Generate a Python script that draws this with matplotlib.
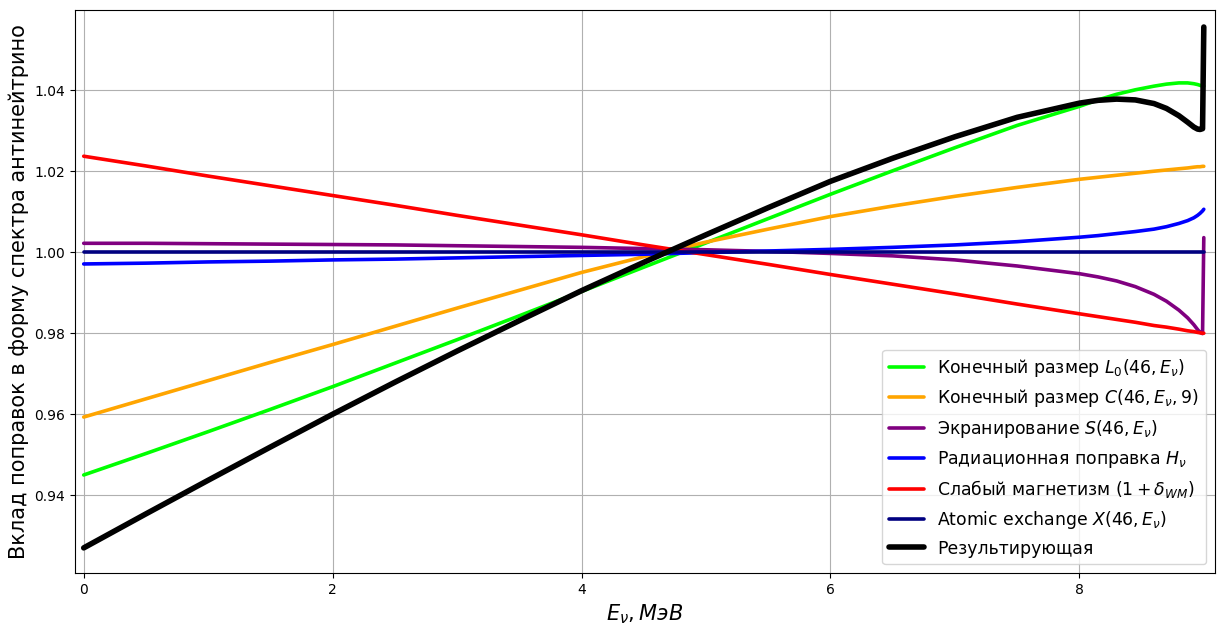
import matplotlib
matplotlib.use("Agg")
import matplotlib.pyplot as plt

# Antineutrino energy grid, MeV
ev = [0.0, 0.5, 1.0, 1.5, 2.0, 2.5, 3.0, 3.5, 4.0, 4.5, 5.0, 5.5, 6.0,
      6.5, 7.0, 7.5, 8.0, 8.15, 8.3, 8.45, 8.6, 8.7, 8.8, 8.87, 8.92,
      8.95, 8.97, 8.99, 9.0]

# Finite size L0(46, Ev)
finite_l0 = [0.9450, 0.9503, 0.9557, 0.9612, 0.9668, 0.9726, 0.9784, 0.9843,
             0.9903, 0.9963, 1.0023, 1.0083, 1.0143, 1.0201, 1.0258, 1.0313,
             1.0360, 1.0376, 1.0390, 1.0401, 1.0410, 1.0415, 1.0418, 1.0418,
             1.0416, 1.0414, 1.0412, 1.0410, 1.0410]
# Finite size C(46, Ev, 9)
finite_c = [0.9593, 0.9638, 0.9683, 0.9728, 0.9772, 0.9817, 0.9862, 0.9906,
            0.9950, 0.9989, 1.0025, 1.0057, 1.0088, 1.0114, 1.0138, 1.0160,
            1.0180, 1.0185, 1.0190, 1.0195, 1.0200, 1.0203, 1.0206, 1.0208,
            1.0210, 1.0211, 1.0211, 1.0212, 1.0212]
# Screening S(46, Ev)
screening = [1.0022, 1.0022, 1.0021, 1.0020, 1.0019, 1.0018, 1.0016, 1.0014,
             1.0012, 1.0009, 1.0006, 1.0002, 0.9997, 0.9991, 0.9981, 0.9966,
             0.9947, 0.9939, 0.9929, 0.9915, 0.9896, 0.9879, 0.9857, 0.9838,
             0.9821, 0.9809, 0.9802, 0.9799, 1.0036]
# Radiative correction H_nu
radiative = [0.9971, 0.9973, 0.9976, 0.9978, 0.9981, 0.9983, 0.9986, 0.9989,
             0.9992, 0.9995, 0.9999, 1.0003, 1.0007, 1.0012, 1.0018, 1.0026,
             1.0037, 1.0041, 1.0046, 1.0051, 1.0057, 1.0063, 1.0071, 1.0078,
             1.0085, 1.0091, 1.0096, 1.0102, 1.0106]
# Weak magnetism (1 + delta_WM)
weak_mag = [1.0237, 1.0213, 1.0188, 1.0164, 1.0140, 1.0116, 1.0091, 1.0067,
            1.0043, 1.0018, 0.9994, 0.9970, 0.9945, 0.9921, 0.9897, 0.9872,
            0.9848, 0.9841, 0.9834, 0.9827, 0.9819, 0.9815, 0.9810, 0.9806,
            0.9804, 0.9802, 0.9801, 0.9800, 0.9800]
# Atomic exchange X(46, Ev)
exchange = [1.0] * len(ev)
# Total correction
total = [0.9270, 0.9354, 0.9437, 0.9519, 0.9600, 0.9679, 0.9756, 0.9831,
         0.9905, 0.9975, 1.0043, 1.0110, 1.0175, 1.0232, 1.0285, 1.0333,
         1.0368, 1.0375, 1.0378, 1.0376, 1.0367, 1.0355, 1.0337, 1.0321,
         1.0309, 1.0304, 1.0303, 1.0305, 1.0556]

labels = [
    r"Конечный размер $L_0(46, E_{\nu})$",
    r"Конечный размер $C(46, E_{\nu}, 9)$",
    r"Экранирование $S(46, E_{\nu})$",
    r"Радиационная поправка $H_{\nu}$",
    r"Слабый магнетизм $(1 + \delta_{WM})$",
    r"Atomic exchange $X(46, E_{\nu})$",
    "Результирующая",
]
colors = ["lime", "orange", "purple", "blue", "red", "navy", "black"]
series = [finite_l0, finite_c, screening, radiative, weak_mag, exchange, total]

fig = plt.figure(figsize=(12.22, 6.25), dpi=100)
ax = fig.add_axes([75 / 1222, (625 - 573) / 625, (1215 - 75) / 1222, (573 - 10) / 625])

for vals, col, lab in zip(series, colors, labels):
    lw = 4.0 if col == "black" else 2.6
    ax.plot(ev, vals, color=col, lw=lw, label=lab, solid_capstyle="round")

ax.set_xlim(-0.07, 9.09)
ax.set_ylim(0.9208, 1.0598)
ax.grid(True)
ax.set_xlabel(r"$E_{\nu}, МэВ$", fontsize=15)
ax.set_ylabel("Вклад поправок в форму спектра антинейтрино", fontsize=15)
ax.legend(loc="lower right", fontsize=12.4)

fig.savefig("out.png", dpi=100)
